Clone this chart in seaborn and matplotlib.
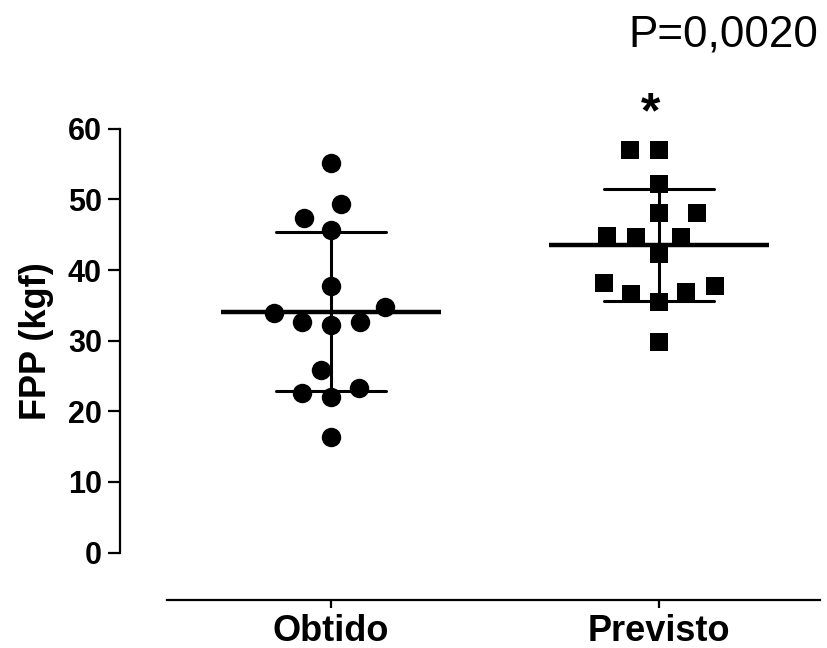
import numpy as np
import pandas as pd
import seaborn as sns
import matplotlib.pyplot as plt

# valores (FPP em kgf)
groups = ["Obtido", "Previsto"]
obtido = [55.1, 49.4, 47.3, 45.7, 37.7, 34.7, 33.9, 32.7, 32.2, 32.7,
          25.8, 22.6, 22.1, 23.3, 16.3]
previsto = [57.0, 57.0, 52.2, 48.0, 48.0, 44.7, 44.7, 44.8, 42.2, 37.7,
            36.6, 36.9, 38.2, 35.5, 29.8]
y_ticks = [0, 10, 20, 30, 40, 50, 60]
p_text = "P=0,0020"

df = pd.DataFrame({
    "grupo": ["Obtido"] * len(obtido) + ["Previsto"] * len(previsto),
    "FPP": obtido + previsto,
})

sns.set_style("ticks")
plt.rcParams["font.family"] = ["Liberation Sans", "DejaVu Sans"]
for k in ["text.color", "axes.labelcolor", "xtick.color", "ytick.color"]:
    plt.rcParams[k] = "black"

fig = plt.figure(figsize=(8.27, 6.48), dpi=100)
ax = fig.add_axes([120 / 827, 48 / 648, 700 / 827, 471.3 / 648])

# pontos individuais (o swarm é calculado com marcadores maiores para
# deixar o espaçamento parecido com o do Prism, depois os marcadores encolhem)
n0 = len(ax.collections)
sns.swarmplot(data=df[df.grupo == "Obtido"], x="grupo", y="FPP", order=groups,
              color="black", marker="o", size=20, ax=ax, clip_on=False)
n1 = len(ax.collections)
sns.swarmplot(data=df[df.grupo == "Previsto"], x="grupo", y="FPP", order=groups,
              color="black", marker="s", size=20, ax=ax, clip_on=False)
n2 = len(ax.collections)
swarm_sizes = [(ax.collections[n0:n1], 14), (ax.collections[n1:n2], 13)]

# média +- desvio padrão
sns.pointplot(data=df, x="grupo", y="FPP", order=groups, errorbar="sd",
              capsize=0.336, color="black", linestyle="none", marker="_",
              markersize=158, markeredgewidth=3.2,
              err_kws={"linewidth": 2.2}, ax=ax)

ax.set_xlim(-0.643, 1.491)
ax.set_ylim(-6.7, 60)
ax.set_yticks(y_ticks)
ax.set_xticks([0, 1])
ax.set_xticklabels(groups)
sns.despine(ax=ax)
ax.spines["left"].set_bounds(0, 60)
ax.spines["bottom"].set_bounds(-0.5, 1.491)
for s in ["left", "bottom"]:
    ax.spines[s].set_linewidth(1.6)
    ax.spines[s].set_color("black")

ax.tick_params(axis="y", length=9, width=1.6, pad=4, labelsize=22)
ax.tick_params(axis="x", length=6, width=1.6, pad=4, labelsize=26)
for lab in ax.get_xticklabels() + ax.get_yticklabels():
    lab.set_fontweight("bold")

ax.set_xlabel("")
ax.set_ylabel("FPP (kgf)", fontsize=26, fontweight="bold")
ax.yaxis.set_label_coords(-0.094, (30 + 6.7) / 66.7)

ax.text(0.976, 62.1, "*", fontsize=36, fontweight="bold", ha="center",
        va="center", clip_on=False)
fig.text(818 / 827, 1 - 47 / 648, p_text, fontsize=31.7, ha="right",
         va="baseline")

# fixa as posições do swarm e reduz os marcadores
fig.canvas.draw()
for colls, sz in swarm_sizes:
    for coll in colls:
        if "draw" in coll.__dict__:
            del coll.draw
        coll.set_sizes([sz ** 2])

fig.savefig("out.png", dpi=100)
